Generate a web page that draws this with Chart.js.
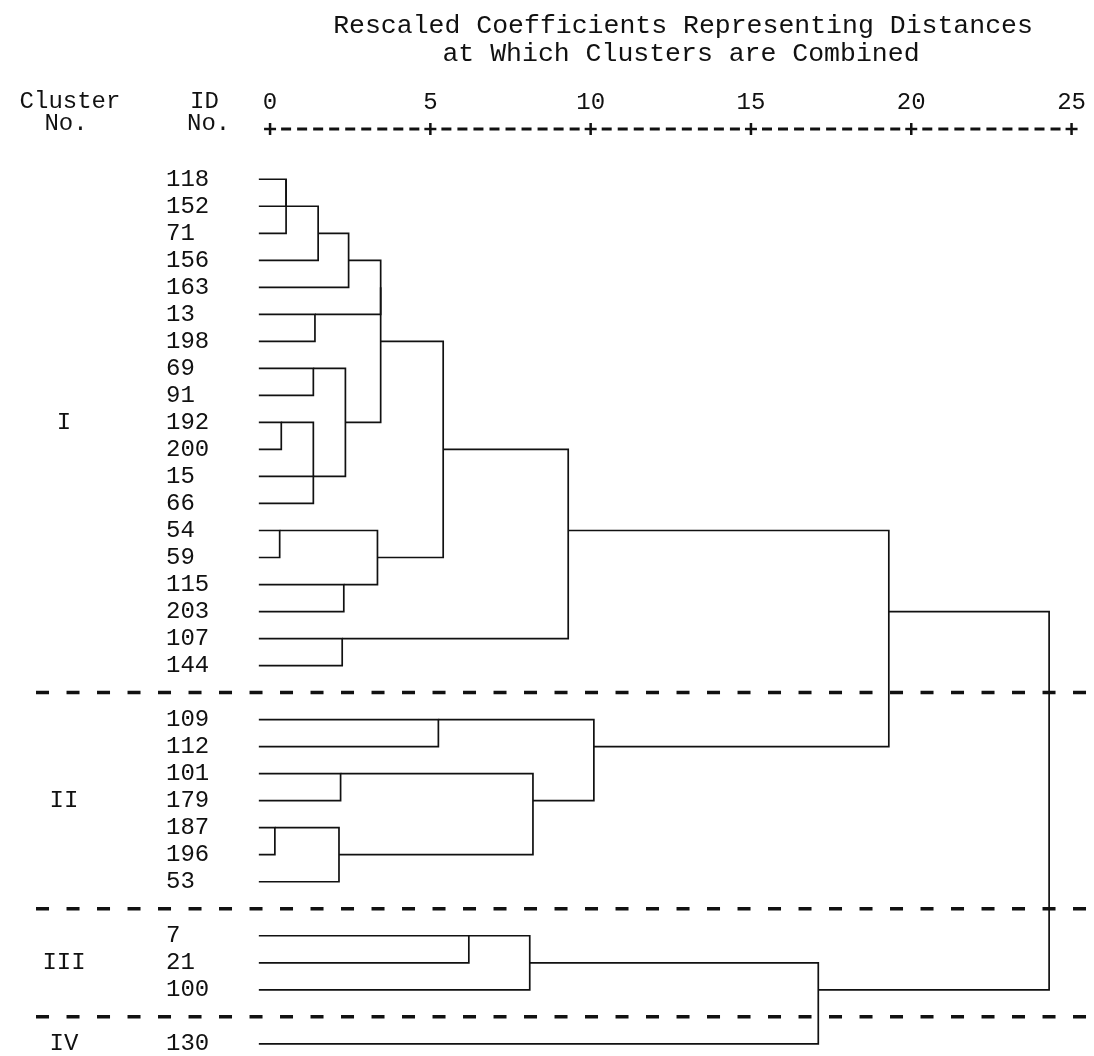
<!DOCTYPE html>
<html>
<head>
<meta charset="utf-8">
<script src="https://cdn.jsdelivr.net/npm/chart.js@4/dist/chart.umd.min.js"></script>
<style>
  html, body { margin: 0; padding: 0; background: #fff; }
  #wrap { width: 1094px; height: 1056px; }
</style>
</head>
<body>
<div id="wrap"><canvas id="dendro"></canvas></div>
<script>
// --- values ---
const titleLines = ["Rescaled Coefficients Representing Distances", "at Which Clusters are Combined"];
const clusterNames = ["I", "II", "III", "IV"];
const clusterI   = ["118","152","71","156","163","13","198","69","91","192","200","15","66","54","59","115","203","107","144"];
const clusterII  = ["109","112","101","179","187","196","53"];
const clusterIII = ["7","21","100"];
const clusterIV  = ["130"];
const xTicks = [0, 5, 10, 15, 20, 25];

// merges: [a, b, rescaled distance]; a string is a case id, a number is an earlier merge
const merges = [
  ["118", "152", 0.5],   // 0
  [0, "71", 0.5],        // 1
  [1, "156", 1.5],       // 2
  [2, "163", 2.45],      // 3
  ["13", "198", 1.4],    // 4
  ["69", "91", 1.35],    // 5
  ["192", "200", 0.35],  // 6
  ["15", "66", 1.35],    // 7
  [6, 7, 1.35],          // 8
  [5, 8, 2.35],          // 9
  [3, 4, 3.45],          // 10
  [10, 9, 3.45],         // 11
  ["54", "59", 0.3],     // 12
  ["115", "203", 2.3],   // 13
  [12, 13, 3.35],        // 14
  ["107", "144", 2.25],  // 15
  [11, 14, 5.4],         // 16
  [16, 15, 9.3],         // 17
  ["109", "112", 5.25],  // 18
  ["101", "179", 2.2],   // 19
  ["187", "196", 0.15],  // 20
  [20, "53", 2.15],      // 21
  [19, 21, 8.2],         // 22
  [18, 22, 10.1],        // 23
  [17, 23, 19.3],        // 24
  ["7", "21", 6.2],      // 25
  [25, "100", 8.1],      // 26
  [26, "130", 17.1],     // 27
  [24, 27, 24.3]         // 28
];
// joins that the printout puts on another row than floor(mean)
const linkRowFix = { 8: 11, 24: 16 };

const LEAF_START = -0.35;
const FONT = '"Liberation Mono", "DejaVu Sans Mono", monospace';

// --- layout rows: one row per case, one empty row between clusters ---
const clusters = [clusterI, clusterII, clusterIII, clusterIV];
const rowOf = {};
const rowLabel = {};
const sepRows = [];
const clusterRows = [];
let r = 0;
clusters.forEach((ids, ci) => {
  if (ci > 0) { sepRows.push(r); r++; }
  const first = r;
  ids.forEach(id => { rowOf[id] = r; rowLabel[r] = id; r++; });
  clusterRows.push(first + Math.floor((ids.length - 1) / 2));
});
const leafRows = Object.keys(rowLabel).map(Number);

const nodeRow = [];
const datasets = [];
merges.forEach((m, i) => {
  const [a, b, d] = m;
  const ra = typeof a === "number" ? nodeRow[a] : rowOf[a];
  const rb = typeof b === "number" ? nodeRow[b] : rowOf[b];
  const sa = typeof a === "number" ? merges[a][2] : LEAF_START;
  const sb = typeof b === "number" ? merges[b][2] : LEAF_START;
  nodeRow[i] = linkRowFix[i] !== undefined ? linkRowFix[i] : Math.floor((ra + rb) / 2);
  datasets.push({
    data: [{ x: sa, y: ra }, { x: d, y: ra }, { x: d, y: rb }, { x: sb, y: rb }],
    borderColor: "#111", borderWidth: 1.7, pointRadius: 0, showLine: true, clip: false
  });
});

sepRows.forEach(sr => {
  datasets.push({
    data: [{ x: -7.3, y: sr }, { x: 25.8, y: sr }],
    borderColor: "#111", borderWidth: 3.5, borderDash: [13, 17.5],
    pointRadius: 0, showLine: true, clip: false
  });
});

// texts and the "+---------+" ruler, drawn like the printout
const printout = {
  id: "printout",
  afterDraw(chart) {
    const ctx = chart.ctx;
    const xs = chart.scales.x, ys = chart.scales.y;
    ctx.save();
    ctx.fillStyle = "#111";
    ctx.strokeStyle = "#111";
    ctx.textBaseline = "middle";

    ctx.font = "26.5px " + FONT;
    ctx.textAlign = "center";
    ctx.fillText(titleLines[0], 683, 26);
    ctx.fillText(titleLines[1], 681, 54);

    ctx.font = "24px " + FONT;
    ctx.fillText("Cluster", 70, 102);
    ctx.fillText("No.", 66, 124);
    ctx.textAlign = "left";
    ctx.fillText("ID", 190, 102);
    ctx.fillText("No.", 187, 124);

    ctx.textAlign = "center";
    clusterNames.forEach((n, i) => ctx.fillText(n, 64, ys.getPixelForValue(clusterRows[i])));

    // ruler
    const yr = xs.bottom;
    ctx.lineWidth = 3;
    for (let v = xTicks[0]; v < xTicks[xTicks.length - 1]; v += 0.5) {
      if (v % 5 === 0) continue;
      const px = xs.getPixelForValue(v);
      ctx.beginPath();
      ctx.moveTo(px - 5, yr);
      ctx.lineTo(px + 5, yr);
      ctx.stroke();
    }
    ctx.lineWidth = 2.5;
    xTicks.forEach(t => {
      const px = xs.getPixelForValue(t);
      ctx.beginPath();
      ctx.moveTo(px - 6, yr); ctx.lineTo(px + 6, yr);
      ctx.moveTo(px, yr - 6); ctx.lineTo(px, yr + 6);
      ctx.stroke();
    });
    ctx.restore();
  }
};

new Chart(document.getElementById("dendro"), {
  type: "scatter",
  data: { datasets },
  options: {
    responsive: true,
    maintainAspectRatio: false,
    animation: false,
    devicePixelRatio: 1,
    layout: { padding: { left: 166, right: 0, top: 0, bottom: 0 } },
    plugins: { legend: { display: false }, tooltip: { enabled: false }, title: { display: false } },
    scales: {
      x: {
        type: "linear", position: "top", min: -1, max: 25.7,
        grid: { display: false, drawTicks: false }, border: { display: false },
        afterBuildTicks: s => { s.ticks = xTicks.map(v => ({ value: v })); },
        afterFit: s => { s.height = 129; s.paddingLeft = 0; s.paddingRight = 0; },
        ticks: { padding: 12, maxRotation: 0, color: "#111", font: { family: FONT, size: 24 } }
      },
      y: {
        type: "linear", reverse: true, min: -1.86, max: 32.45,
        grid: { display: false, drawTicks: false }, border: { display: false },
        afterBuildTicks: s => { s.ticks = leafRows.map(v => ({ value: v })); },
        afterFit: s => { s.width = 72; s.paddingTop = 0; s.paddingBottom = 0; },
        ticks: {
          crossAlign: "far", padding: 0, autoSkip: false, color: "#111",
          font: { family: FONT, size: 24 },
          callback: v => rowLabel[v] || ""
        }
      }
    }
  },
  plugins: [printout]
});
</script>
</body>
</html>
